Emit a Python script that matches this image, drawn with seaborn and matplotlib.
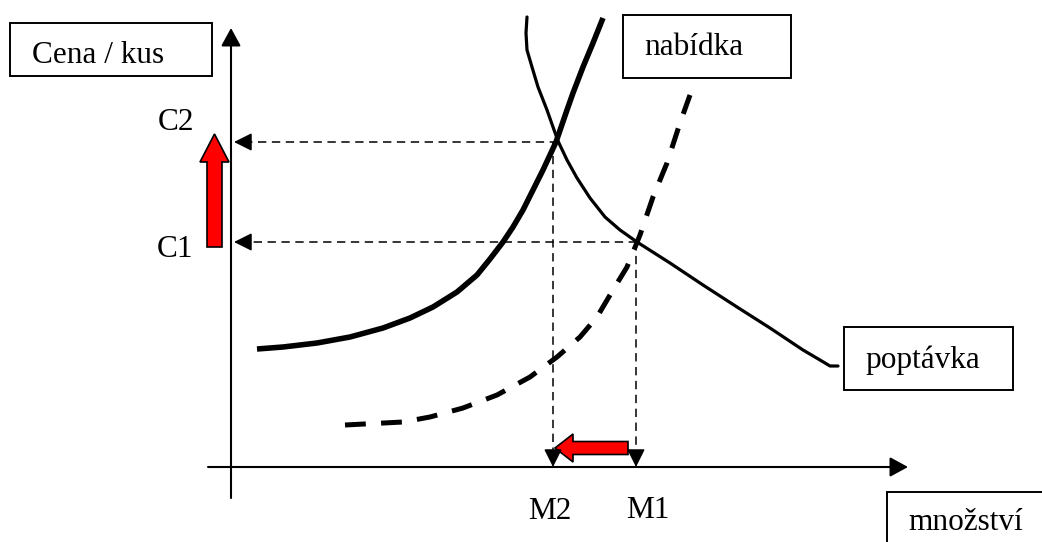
import seaborn as sns
import matplotlib.pyplot as plt
import pandas as pd
from matplotlib.patches import Rectangle, FancyArrow

# diagram units: quantity to the right, price upwards (origin where the axes cross)
supply_q = [26, 52, 86, 119, 152, 179, 202, 226, 246, 259, 272, 282, 292, 302, 312, 325,
            336, 342, 352, 362, 372]
supply_p = [118, 120, 124, 130, 139, 149, 160, 175, 192, 208, 225, 240, 257, 277, 297, 325,
            357, 374, 400, 424, 449]

demand_q = [296, 295, 296, 301, 307, 316, 322, 327, 336, 346, 359, 374, 389, 406,
            439, 472, 506, 539, 572, 589, 599, 607]
demand_p = [450, 434, 417, 400, 380, 357, 340, 326, 307, 289, 269, 250, 237, 225,
            204, 182, 160, 139, 117, 107, 101, 101]

supply2_q = [114, 172, 199, 232, 266, 299, 326, 349, 366, 382, 396, 409, 422, 436, 449, 459]
supply2_p = [42, 45, 50, 59, 72, 90, 110, 130, 150, 177, 200, 232, 270, 304, 344, 372]

price_labels = ["C1", "C2"]
price_levels = [225, 325]
price_from_q = [406, 327]
qty_labels = ["M1", "M2"]
qty_levels = [405, 322]
qty_from_p = [225, 325]

sns.set_theme(style="white")
plt.rcParams['font.family'] = ['Liberation Serif', 'DejaVu Serif']
plt.rcParams['lines.scale_dashes'] = False

fig = plt.figure(figsize=(10.42, 5.42), dpi=100)
ax = fig.add_axes([0, 0, 1, 1])
ax.set_xlim(-231, 811)
ax.set_ylim(-75, 467)
ax.axis('off')

curves = pd.concat([
    pd.DataFrame({'q': supply_q, 'p': supply_p, 'krivka': 'nabidka'}),
    pd.DataFrame({'q': demand_q, 'p': demand_p, 'krivka': 'poptavka'}),
    pd.DataFrame({'q': supply2_q, 'p': supply2_p, 'krivka': 'nabidka2'}),
])
sns.lineplot(data=curves[curves.krivka == 'nabidka'], x='q', y='p', sort=False,
             estimator=None, color='black', lw=4.0, ax=ax,
             solid_capstyle='butt', solid_joinstyle='round')
sns.lineplot(data=curves[curves.krivka == 'poptavka'], x='q', y='p', sort=False,
             estimator=None, color='black', lw=2.3, ax=ax,
             solid_capstyle='round', solid_joinstyle='round')
sns.lineplot(data=curves[curves.krivka == 'nabidka2'], x='q', y='p', sort=False,
             estimator=None, color='black', lw=3.6, ax=ax,
             linestyle=(0, (15, 11)), dash_capstyle='butt')

# axes with arrow heads
axis_style = dict(arrowstyle='-|>,head_length=11,head_width=6', mutation_scale=1,
                  color='black', lw=1.5, shrinkA=0, shrinkB=0)
ax.annotate('', xy=(0, 439), xytext=(0, -31), arrowprops=axis_style)
ax.annotate('', xy=(677, 0), xytext=(-23, 0), arrowprops=axis_style)

# dashed guides, solid heads
head_style = dict(arrowstyle='-|>,head_length=11,head_width=5.5', mutation_scale=1,
                  color='black', lw=1.1, shrinkA=0, shrinkB=0)
for lvl, q0 in zip(price_levels, price_from_q):
    ax.plot([q0, 18], [lvl, lvl], color='black', lw=1.1, ls=(0, (6, 4)))
    ax.annotate('', xy=(3, lvl), xytext=(18, lvl), arrowprops=head_style)
for lvl, p0 in zip(qty_levels, qty_from_p):
    ax.plot([lvl, lvl], [p0, 15], color='black', lw=1.1, ls=(0, (6, 4)))
    ax.annotate('', xy=(lvl, 0), xytext=(lvl, 15), arrowprops=head_style)

# red shift arrows
ax.add_patch(FancyArrow(-16.5, 220, 0, 113, width=15, head_width=29, head_length=28,
                        length_includes_head=True, fc='#ff0000', ec='black', lw=1.2))
ax.add_patch(FancyArrow(397, 19, -73, 0, width=13, head_width=28, head_length=18,
                        length_includes_head=True, fc='#ff0000', ec='black', lw=1.2))

fs = 22.5
ax.text(-73, 337, price_labels[1], fontsize=fs, va='baseline', ha='left', color='black')
ax.text(-74, 210, price_labels[0], fontsize=fs, va='baseline', ha='left', color='black')
ax.text(297, -52, qty_labels[1], fontsize=fs, va='baseline', ha='left', color='black')
ax.text(395, -51, qty_labels[0], fontsize=fs, va='baseline', ha='left', color='black')

# labelled boxes
boxes = [
    ((-221, 391), 202, 53, 'Cena / kus', (-199, 404)),
    ((392, 389), 168, 63, 'nabídka', (413, 412)),
    ((613, 77), 169, 63, 'poptávka', (634, 99)),
    ((656, -85), 170, 60, 'množství', (677, -63)),
]
for (x0, y0), w, h, label, (tx, ty) in boxes:
    ax.add_patch(Rectangle((x0, y0), w, h, fill=False, ec='black', lw=1.4))
    ax.text(tx, ty, label, fontsize=fs, va='baseline', ha='left', color='black')

fig.savefig('out.png', dpi=100)
